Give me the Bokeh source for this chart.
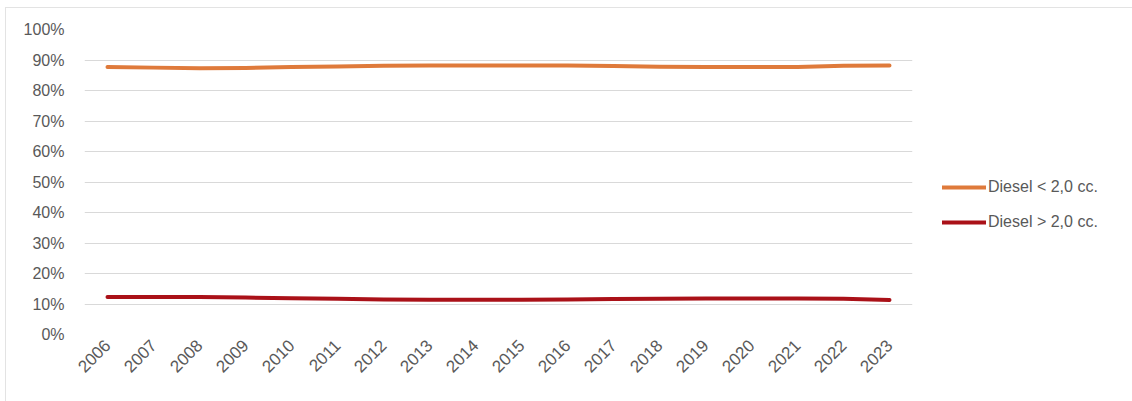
import math
from bokeh.plotting import figure
from bokeh.models import (FactorRange, Range1d, NumeralTickFormatter, Legend,
                          LegendItem, FixedTicker)
from bokeh.embed import file_html
from bokeh.resources import INLINE

years = [str(y) for y in range(2006, 2024)]
diesel_lt_2 = [87.7, 87.5, 87.3, 87.4, 87.7, 87.9, 88.1, 88.2, 88.2,
               88.2, 88.2, 88.0, 87.8, 87.7, 87.7, 87.7, 88.1, 88.2]
diesel_gt_2 = [12.3, 12.3, 12.3, 12.1, 11.9, 11.7, 11.5, 11.4, 11.4,
               11.4, 11.5, 11.6, 11.7, 11.8, 11.8, 11.8, 11.7, 11.3]
y_ticks = [i / 10 for i in range(0, 11)]

series_names = ["Diesel < 2,0 cc.", "Diesel > 2,0 cc."]
series_colors = ["#DF7A3B", "#AA1118"]

FONT = "Liberation Sans"
TEXT_COLOR = "#595959"

p = figure(
    frame_width=828, frame_height=305,
    x_range=FactorRange(*years, range_padding=0),
    y_range=Range1d(0, 1),
    output_backend="svg", toolbar_location=None,
    min_border_left=78, min_border_right=221,
    min_border_top=21, min_border_bottom=67,
    margin=(7, 0, 0, 5),
    styles={"border-top": "1px solid #E3E3E3", "border-left": "1px solid #E3E3E3"},
)
p.outline_line_color = None
p.background_fill_color = "white"
p.border_fill_color = "white"

p.xgrid.grid_line_color = None
p.ygrid.grid_line_color = "#D9D9D9"
p.ygrid.grid_line_width = 1

p.yaxis.ticker = FixedTicker(ticks=y_ticks)
p.yaxis.formatter = NumeralTickFormatter(format="0%")
for ax in (p.xaxis[0], p.yaxis[0]):
    ax.axis_line_color = None
    ax.major_tick_line_color = None
    ax.minor_tick_line_color = None
    ax.major_label_text_font = FONT
    ax.major_label_text_font_size = "16px"
    ax.major_label_text_color = TEXT_COLOR
p.xaxis.major_label_text_font_size = "17px"
p.yaxis.major_label_standoff = 14
p.xaxis.major_label_orientation = math.pi / 4
p.xaxis.major_label_standoff = 2

renderers = []
for vals, color in zip([diesel_lt_2, diesel_gt_2], series_colors):
    r = p.line(years, [v / 100 for v in vals], line_color=color, line_width=4,
               line_join="round", line_cap="round")
    renderers.append(r)

legend = Legend(
    items=[LegendItem(label=n, renderers=[r]) for n, r in zip(series_names, renderers)],
    location=(30, 102),
    orientation="vertical",
    glyph_width=44, glyph_height=20, label_height=20,
    spacing=15, padding=0, margin=0, label_standoff=2,
    label_text_font=FONT, label_text_font_size="16px",
    label_text_color=TEXT_COLOR,
    background_fill_alpha=0, border_line_color=None,
)
p.add_layout(legend, "right")

open("out.html", "w").write(file_html(p, INLINE))
